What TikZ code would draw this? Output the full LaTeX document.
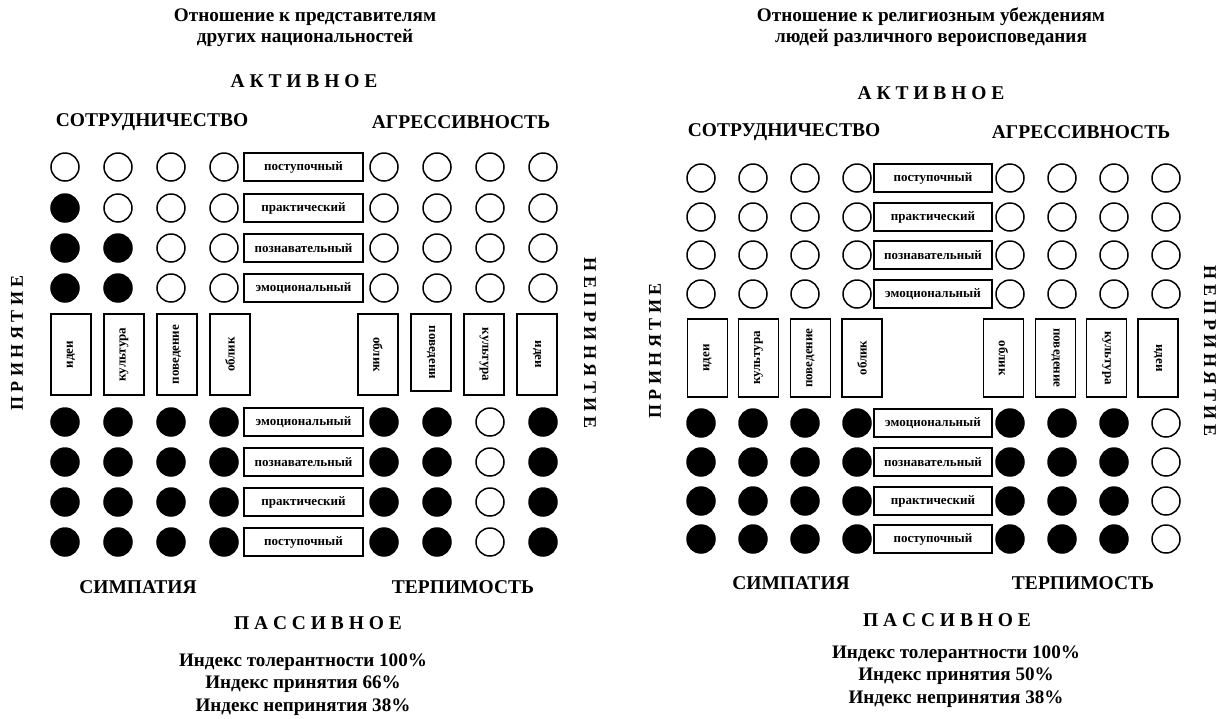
\documentclass[tikz,border=0pt]{standalone}
\usepackage{fontspec}
\setmainfont{Liberation Serif}
\usepackage{tikz}
\usetikzlibrary{positioning}
\tikzset{%
  pole/.style={circle,draw,line width=1.5pt,minimum size=28pt,inner sep=0pt},
  pro/.style={pole,fill=black},
  con/.style={pole},
  stagebox/.style={draw,line width=1.5pt,minimum width=119pt,minimum height=28pt,inner sep=0pt,font=\fontsize{13}{13}\selectfont\bfseries},
  facetbox/.style={draw,line width=1.5pt,minimum width=81pt,minimum height=40pt,inner sep=0pt,font=\fontsize{13}{13}\selectfont\bfseries},
  head/.style={font=\fontsize{19.5}{20}\selectfont\bfseries},
  sideword/.style={font=\fontsize{18}{18}\selectfont\bfseries},
  headline/.style={align=center,font=\fontsize{19.2}{21}\selectfont\bfseries},
  indexlist/.style={align=center,font=\fontsize{19.1}{22.3}\selectfont\bfseries},
}

\begin{document}
\begin{tikzpicture}[x=1pt,y=-1pt]
  \useasboundingbox (0,0) rectangle (1223,718);

  % national panel
  \node[headline] (natTitle) at (305,27.5) {Отношение к представителям\\других национальностей};
  \node[head] (natActive) at (304,81) {А К Т И В Н О Е};
  \node[head] (natCoop) at (152,122) {СОТРУДНИЧЕСТВО};
  \node[head] (natAggr) at (461,122) {АГРЕССИВНОСТЬ};
  \node[sideword,rotate=90] (natAccept) at (17,343) {П Р И Н Я Т И Е};
  \node[sideword,rotate=-90] (natReject) at (590,343) {Н Е П Р И Н Я Т И Е};

  \foreach \y/\pat [count=\r] in {167/{con,con,con,con,con,con,con,con},
      208/{pro,con,con,con,con,con,con,con},
      248/{pro,pro,con,con,con,con,con,con},
      288/{pro,pro,con,con,con,con,con,con},
      422/{pro,pro,pro,pro,pro,pro,con,pro},
      462/{pro,pro,pro,pro,pro,pro,con,pro},
      502/{pro,pro,pro,pro,pro,pro,con,pro},
      542/{pro,pro,pro,pro,pro,pro,con,pro}}
    \foreach \s [count=\c] in \pat {
      \pgfmathsetmacro\x{\c<5 ? 65+53*(\c-1) : 384+53*(\c-5)}
      \node[\s] (nat-\r-\c) at (\x,\y) {};
    }

  \foreach \y/\txt [count=\r] in {167/поступочный,208/практический,248/познавательный,288/эмоциональный,
      422/эмоциональный,462/познавательный,502/практический,542/поступочный}
    \node[stagebox] (nat-stage\r) at (303.5,\y) {\txt};

  \node[facetbox,rotate=90] (natIdeasA) at (71,354.5) {идеи};
  \node[facetbox,rotate=90] (natCultA) at (124,354.5) {культура};
  \node[facetbox,rotate=90] (natBehavA) at (177,354.5) {поведение};
  \node[facetbox,rotate=90] (natLookA) at (230,354.5) {облик};
  \node[facetbox,rotate=-90] (natLookR) at (378,354.5) {облик};
  \node[facetbox,rotate=-90,minimum width=77pt] (natBehavR) at (431,352.5) {поведени};
  \node[facetbox,rotate=-90] (natCultR) at (484,354.5) {культура};
  \node[facetbox,rotate=-90] (natIdeasR) at (537,354.5) {идеи};

  \node[head] (natSymp) at (138,587) {СИМПАТИЯ};
  \node[head] (natTol) at (463,587) {ТЕРПИМОСТЬ};
  \node[head] (natPassive) at (318,623) {П А С С И В Н О Е};
  \node[indexlist] (natIndex) at (303,684.5) {Индекс толерантности 100\%\\Индекс принятия 66\%\\Индекс непринятия 38\%};

  % religious panel
  \node[headline] (relTitle) at (931,27.5) {Отношение к религиозным убеждениям\\людей различного вероисповедания};
  \node[head] (relActive) at (931,93) {А К Т И В Н О Е};
  \node[head] (relCoop) at (784,132) {СОТРУДНИЧЕСТВО};
  \node[head] (relAggr) at (1081,132) {АГРЕССИВНОСТЬ};
  \node[sideword,rotate=90] (relAccept) at (655,351) {П Р И Н Я Т И Е};
  \node[sideword,rotate=-90] (relReject) at (1210,351) {Н Е П Р И Н Я Т И Е};

  \foreach \y/\pat [count=\r] in {178/{con,con,con,con,con,con,con,con},
      217/{con,con,con,con,con,con,con,con},
      255/{con,con,con,con,con,con,con,con},
      294/{con,con,con,con,con,con,con,con},
      423/{pro,pro,pro,pro,pro,pro,pro,con},
      462/{pro,pro,pro,pro,pro,pro,pro,con},
      501/{pro,pro,pro,pro,pro,pro,pro,con},
      539/{pro,pro,pro,pro,pro,pro,pro,con}}
    \foreach \s [count=\c] in \pat {
      \pgfmathsetmacro\x{\c<5 ? 701+52*(\c-1) : 1010+52*(\c-5)}
      \node[\s] (rel-\r-\c) at (\x,\y) {};
    }

  \foreach \y/\txt [count=\r] in {178/поступочный,217/практический,255/познавательный,294/эмоциональный,
      423/эмоциональный,462/познавательный,501/практический,539/поступочный}
    \node[stagebox,minimum width=118pt] (rel-stage\r) at (933,\y) {\txt};

  \node[facetbox,rotate=90,minimum width=78pt] (relIdeasA) at (707.5,358) {идеи};
  \node[facetbox,rotate=90,minimum width=78pt] (relCultA) at (758.5,358) {культура};
  \node[facetbox,rotate=90,minimum width=78pt] (relBehavA) at (810.5,358) {поведение};
  \node[facetbox,rotate=90,minimum width=78pt] (relLookA) at (862,358) {облик};
  \node[facetbox,rotate=-90,minimum width=78pt] (relLookR) at (1003.5,358) {облик};
  \node[facetbox,rotate=-90,minimum width=78pt] (relBehavR) at (1055.5,358) {поведение};
  \node[facetbox,rotate=-90,minimum width=78pt] (relCultR) at (1106.5,358) {культура};
  \node[facetbox,rotate=-90,minimum width=78pt] (relIdeasR) at (1158,358) {идеи};

  \node[head] (relSymp) at (791,583) {СИМПАТИЯ};
  \node[head] (relTol) at (1083,583) {ТЕРПИМОСТЬ};
  \node[head] (relPassive) at (947,620) {П А С С И В Н О Е};
  \node[indexlist] (relIndex) at (956,676.5) {Индекс толерантности 100\%\\Индекс принятия 50\%\\Индекс непринятия 38\%};
\end{tikzpicture}
\end{document}
